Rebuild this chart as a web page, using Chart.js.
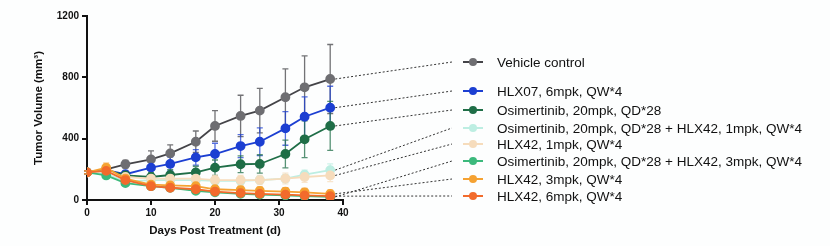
<!DOCTYPE html>
<html>
<head>
<meta charset="utf-8">
<script src="https://cdn.jsdelivr.net/npm/chart.js@4"></script>
<style>
  html, body { margin: 0; padding: 0; background: #fdfefe; }
  #wrap { width: 830px; height: 246px; }
</style>
</head>
<body>
<div id="wrap"><canvas id="c" width="830" height="246"></canvas></div>
<script>
const days = [0, 3, 6, 10, 13, 17, 20, 24, 27, 31, 34, 38]

const seriesNames = [
    'Vehicle control',
    'HLX07, 6mpk, QW*4',
    'Osimertinib, 20mpk, QD*28',
    'Osimertinib, 20mpk, QD*28 + HLX42, 1mpk, QW*4',
    'HLX42, 1mpk, QW*4',
    'Osimertinib, 20mpk, QD*28 + HLX42, 3mpk, QW*4',
    'HLX42, 3mpk, QW*4',
    'HLX42, 6mpk, QW*4'
]

const vehicle = [180, 200, 233, 265, 304, 380, 483, 548, 583, 670, 735, 789]
const hlx07 = [180, 195, 168, 211, 235, 278, 300, 352, 380, 467, 543, 602]
const osim = [180, 195, 160, 150, 163, 180, 211, 233, 235, 300, 396, 483]
const osimHlx1 = [180, 170, 120, 130, 130, 130, 125, 125, 130, 140, 165, 195]
const hlx42_1 = [180, 190, 150, 140, 140, 140, 130, 130, 130, 140, 150, 160]
const osimHlx3 = [180, 160, 110, 90, 80, 60, 50, 40, 35, 30, 25, 20]
const hlx42_3 = [180, 210, 140, 100, 95, 90, 70, 65, 60, 55, 50, 40]
const hlx42_6 = [180, 190, 130, 90, 80, 70, 55, 45, 40, 35, 30, 25]

const vehicleErr = [10, 25, 25, 55, 55, 70, 100, 135, 145, 185, 205, 225]
const hlx07Err = [10, 20, 20, 40, 45, 50, 70, 75, 90, 110, 130, 140]
const osimErr = [10, 20, 20, 30, 35, 40, 50, 55, 60, 90, 120, 160]
const osimHlx1Err = [10, 15, 15, 20, 20, 20, 20, 20, 20, 25, 30, 40]
const hlx42_1Err = [10, 20, 20, 25, 25, 30, 30, 30, 30, 35, 35, 40]
const osimHlx3Err = [10, 15, 15, 15, 15, 10, 10, 10, 10, 10, 10, 10]
const hlx42_3Err = [10, 30, 25, 25, 30, 35, 25, 25, 25, 25, 25, 25]
const hlx42_6Err = [10, 20, 20, 20, 20, 20, 15, 15, 15, 15, 15, 15]

const xTicks = [0, 10, 20, 30, 40]
const yTicks = [0, 400, 800, 1200]

const allValues = [vehicle, hlx07, osim, osimHlx1, hlx42_1, osimHlx3, hlx42_3, hlx42_6]
const allErrors = [vehicleErr, hlx07Err, osimErr, osimHlx1Err, hlx42_1Err, osimHlx3Err, hlx42_3Err, hlx42_6Err]

const colors = ['#6e6e72', '#1c3fd2', '#1f6e47', '#bdeee2', '#f6dcbc', '#3cb97c', '#f5a232', '#f26b2c']
const lineColors = ['#444448', '#1c3fd2', '#1f6e47', '#bdeee2', '#f6dcbc', '#3cb97c', '#f5a232', '#f26b2c']

// legend rows (pixel y) in the right-hand panel
const legendRowY = [62, 91, 110, 128, 144, 161, 179, 196]

const drawOrder = [7, 6, 5, 4, 3, 2, 1, 0]

const errorBars = {
    id: 'errorBars',
    beforeDatasetsDraw(chart) {
        const ctx = chart.ctx
        const ys = chart.scales.y
        chart.data.datasets.forEach((ds, i) => {
            const meta = chart.getDatasetMeta(i)
            const err = allErrors[i]
            ctx.save()
            ctx.strokeStyle = lineColors[i]
            ctx.globalAlpha = 0.75
            ctx.lineWidth = 1.3
            meta.data.forEach((pt, j) => {
                const v = allValues[i][j]
                const top = ys.getPixelForValue(v + err[j])
                const bot = ys.getPixelForValue(Math.max(0, v - err[j]))
                ctx.beginPath()
                ctx.moveTo(pt.x, top)
                ctx.lineTo(pt.x, bot)
                ctx.moveTo(pt.x - 3, top)
                ctx.lineTo(pt.x + 3, top)
                ctx.moveTo(pt.x - 3, bot)
                ctx.lineTo(pt.x + 3, bot)
                ctx.stroke()
            })
            ctx.restore()
        })
    }
}

const sideLegend = {
    id: 'sideLegend',
    afterDraw(chart) {
        const ctx = chart.ctx
        const markX = 473
        ctx.save()
        chart.data.datasets.forEach((ds, i) => {
            const meta = chart.getDatasetMeta(i)
            const last = meta.data[meta.data.length - 1]
            const y = legendRowY[i]
            // dotted leader line
            ctx.strokeStyle = '#333'
            ctx.lineWidth = 1
            ctx.setLineDash([2, 2])
            ctx.beginPath()
            ctx.moveTo(last.x + 5, last.y)
            ctx.lineTo(452, y)
            ctx.stroke()
            ctx.setLineDash([])
            // marker
            ctx.strokeStyle = lineColors[i]
            ctx.lineWidth = 2
            ctx.beginPath()
            ctx.moveTo(markX - 10, y)
            ctx.lineTo(markX + 10, y)
            ctx.stroke()
            ctx.fillStyle = colors[i]
            ctx.beginPath()
            ctx.arc(markX, y, 4, 0, Math.PI * 2)
            ctx.fill()
            // label
            ctx.fillStyle = '#111'
            ctx.font = '13.5px "Liberation Sans", Arial, sans-serif'
            ctx.textBaseline = 'middle'
            ctx.textAlign = 'left'
            ctx.fillText(ds.label, 497, y + 1)
        })
        ctx.restore()
    }
}

const datasets = allValues.map((vals, i) => ({
    label: seriesNames[i],
    data: vals.map((v, j) => ({ x: days[j], y: v })),
    borderColor: lineColors[i],
    backgroundColor: colors[i],
    pointBackgroundColor: colors[i],
    pointBorderColor: colors[i],
    pointRadius: 4,
    borderWidth: 1.8,
    tension: 0,
    fill: false,
    order: drawOrder[i]
}))

const tickFont = { family: '"Liberation Sans", Arial, sans-serif', size: 10, weight: 'bold' }
const titleFont = { family: '"Liberation Sans", Arial, sans-serif', size: 11.5, weight: 'bold' }

new Chart(document.getElementById('c'), {
    type: 'line',
    data: { datasets: datasets },
    options: {
        responsive: false,
        animation: false,
        layout: { padding: { left: 28, right: 487, top: 16, bottom: 0 } },
        plugins: {
            legend: { display: false },
            tooltip: { enabled: false }
        },
        scales: {
            x: {
                type: 'linear',
                min: 0,
                max: 40,
                afterBuildTicks: s => { s.ticks = xTicks.map(v => ({ value: v })) },
                afterFit: s => { s.height = 46 },
                ticks: { color: '#111', font: tickFont, padding: 2 },
                grid: { display: true, drawOnChartArea: false, drawTicks: true, tickLength: 5, color: '#111', lineWidth: 2 },
                border: { display: true, color: '#111', width: 2 },
                title: { display: true, text: 'Days Post Treatment (d)', color: '#111', font: titleFont, padding: { top: 0, bottom: 8 } }
            },
            y: {
                min: 0,
                max: 1200,
                afterBuildTicks: s => { s.ticks = yTicks.map(v => ({ value: v })) },
                afterFit: s => { s.width = 59 },
                ticks: { color: '#111', font: tickFont, padding: 3, callback: v => String(v) },
                grid: { display: true, drawOnChartArea: false, drawTicks: true, tickLength: 5, color: '#111', lineWidth: 2 },
                border: { display: true, color: '#111', width: 2 },
                title: { display: true, text: 'Tumor Volume (mm³)', color: '#111', font: titleFont, padding: { bottom: 10 } }
            }
        }
    },
    plugins: [errorBars, sideLegend]
})
</script>
</body>
</html>
